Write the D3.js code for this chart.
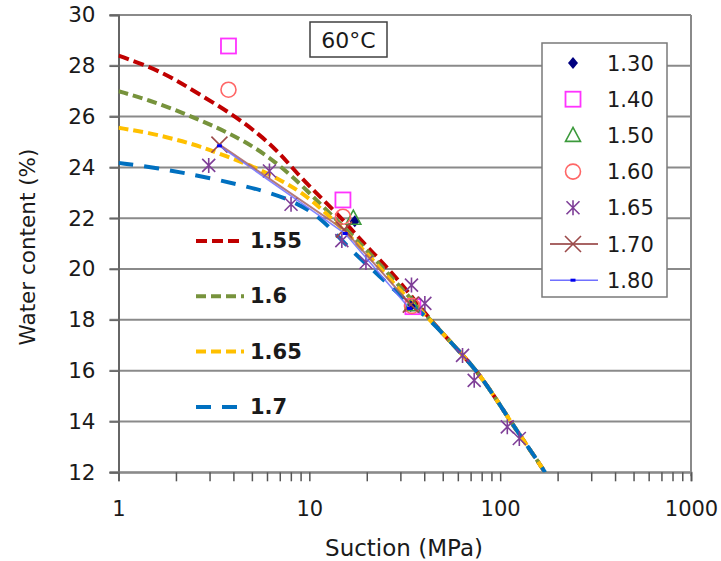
<!DOCTYPE html>
<html>
<head>
<meta charset="utf-8">
<script src="https://cdn.jsdelivr.net/npm/d3@7"></script>
<style>
  body { margin: 0; background: #fff; }
  text { font-family: "DejaVu Sans", Verdana, sans-serif; fill: #1a1a1a; }
</style>
</head>
<body>
<div id="chart"></div>
<script>
// measured points, [suction MPa, water content %]
var d130 = [[17.3, 21.88], [34.0, 18.55]];
var d140 = [[3.77, 28.78], [15.0, 22.72], [34.9, 18.52]];
var d150 = [[17.0, 22.0], [34.5, 18.6]];
var d160 = [[3.77, 27.06], [15.0, 22.06], [34.5, 18.55]];
var d165 = [[2.97, 24.08], [6.18, 23.86], [8.02, 22.55], [14.8, 21.12], [19.8, 20.26],
            [34.3, 19.37], [40.3, 18.65], [63.5, 16.6], [73.1, 15.62], [109, 13.79], [126, 13.33]];
var d170 = [[3.38, 24.9], [15.2, 21.55], [34.0, 18.6]];
var d180 = [[3.38, 24.85], [15.4, 21.4], [33.5, 18.45]];

// fitted curves
var fitTail = [[42.5, 18.05], [57, 17.0], [78, 15.9], [111, 14.1], [140, 13.0], [172, 12]];
var fit155 = [[1, 28.4], [1.45, 27.97], [2, 27.45], [2.76, 26.8], [3.97, 26.08], [5.47, 25.3],
              [6.97, 24.58], [8.87, 23.66], [11.3, 22.87], [14.4, 22.09], [19, 21.06], [25, 20.15], [33, 19.1]].concat(fitTail);
var fit16 = [[1, 27.0], [1.45, 26.65], [2.17, 26.15], [3, 25.7], [4.3, 25.15], [5.93, 24.5],
             [7.86, 23.75], [10, 23.0], [13.2, 22.09], [17.6, 21.18], [24, 20.1], [32, 19.05]].concat(fitTail);
var fit165 = [[1, 25.56], [1.45, 25.36], [2, 25.1], [2.66, 24.84], [3.66, 24.44], [5.05, 24.05],
              [6.97, 23.53], [9.23, 23.0], [12.2, 22.22], [16.2, 21.3], [22, 20.3], [31, 19.0]].concat(fitTail);
var fit17 = [[1, 24.18], [1.57, 23.99], [3, 23.6], [5.93, 23.07], [8.18, 22.68], [11.3, 22.09],
             [15.7, 20.9], [22, 19.9], [31, 18.85]].concat(fitTail);

var xTicks = [1, 10, 100, 1000];
var yTicks = [12, 14, 16, 18, 20, 22, 24, 26, 28, 30];

var width = 721, height = 561;
var pLeft = 118.5, pRight = 691, pTop = 15, pBottom = 472.3;

var x = d3.scaleLog().domain([1, 1000]).range([pLeft, pRight]);
var y = d3.scaleLinear().domain([12, 30]).range([pBottom, pTop]);

var svg = d3.select("#chart").append("svg")
    .attr("width", width)
    .attr("height", height);

svg.append("rect").attr("width", width).attr("height", height).attr("fill", "#fff");

svg.append("clipPath").attr("id", "plot")
  .append("rect")
    .attr("x", pLeft).attr("y", pTop - 2)
    .attr("width", pRight - pLeft).attr("height", pBottom - pTop + 2);

// horizontal gridlines
svg.append("g")
  .selectAll("line")
  .data(yTicks)
  .enter().append("line")
    .attr("x1", pLeft - 9).attr("x2", pRight)
    .attr("y1", function(d) { return y(d); })
    .attr("y2", function(d) { return y(d); })
    .attr("stroke", "#8a8a8a")
    .attr("stroke-width", 2);

// right border
svg.append("line")
    .attr("x1", pRight).attr("x2", pRight)
    .attr("y1", pTop).attr("y2", pBottom + 4)
    .attr("stroke", "#8a8a8a").attr("stroke-width", 2);

// y axis
var yAxis = svg.append("g")
    .attr("transform", "translate(" + pLeft + ",0)")
    .call(d3.axisLeft(y).tickValues(yTicks).tickSize(9).tickPadding(14));
yAxis.select(".domain").attr("stroke", "#666").attr("stroke-width", 2);
yAxis.selectAll(".tick line").attr("stroke", "#666").attr("stroke-width", 1.5);
yAxis.selectAll("text").attr("font-size", 21.5).attr("font-family", "DejaVu Sans").attr("fill", "#1a1a1a");

// x axis with minor ticks
var minor = [];
[1, 10, 100].forEach(function(dec) {
  for (var k = 1; k < 10; k++) minor.push(dec * k);
});
minor.push(1000);
var xAxis = svg.append("g")
    .attr("transform", "translate(0," + pBottom + ")")
    .call(d3.axisBottom(x).tickValues(minor).tickSize(9).tickPadding(20)
      .tickFormat(function(d) { return xTicks.indexOf(d) >= 0 ? d : ""; }));
xAxis.select(".domain").attr("stroke", "#8a8a8a").attr("stroke-width", 2);
xAxis.selectAll(".tick line").attr("stroke", "#555").attr("stroke-width", 1.5);
xAxis.selectAll("text").attr("font-size", 21).attr("font-family", "DejaVu Sans").attr("fill", "#1a1a1a");

// axis titles
svg.append("text")
    .attr("x", 404).attr("y", 556)
    .attr("text-anchor", "middle")
    .attr("font-size", 23)
    .text("Suction (MPa)");
svg.append("text")
    .attr("transform", "translate(35,247) rotate(-90)")
    .attr("text-anchor", "middle")
    .attr("font-size", 21.5)
    .text("Water content (%)");

// fitted curves
var line = d3.line()
    .x(function(d) { return x(d[0]); })
    .y(function(d) { return y(d[1]); })
    .curve(d3.curveBasis);

var fits = [
  {name: "1.55", data: fit155, color: "#c00000", dash: "11,5"},
  {name: "1.6", data: fit16, color: "#77933c", dash: "10,5"},
  {name: "1.65", data: fit165, color: "#ffc000", dash: "10,5"},
  {name: "1.7", data: fit17, color: "#0070c0", dash: "15,11"}
];

var curves = svg.append("g").attr("clip-path", "url(#plot)");
fits.forEach(function(f) {
  curves.append("path")
      .datum(f.data)
      .attr("fill", "none")
      .attr("stroke", f.color)
      .attr("stroke-width", 4)
      .attr("stroke-dasharray", f.dash)
      .attr("d", line);
});

// curve labels
var fitKey = svg.append("g");
fits.forEach(function(f, i) {
  var yy = 241 + i * 55.3;
  fitKey.append("line")
      .attr("x1", 196).attr("x2", 244)
      .attr("y1", yy).attr("y2", yy)
      .attr("stroke", f.color).attr("stroke-width", 4)
      .attr("stroke-dasharray", f.dash);
  fitKey.append("text")
      .attr("x", 250).attr("y", yy + 7)
      .attr("font-family", "Liberation Sans, Arial, sans-serif")
      .attr("font-weight", "bold")
      .attr("font-size", 21)
      .attr("fill", "#000")
      .text(f.name);
});

// marker drawers
function asterisk(g, r, color) {
  g.append("path")
      .attr("d", "M" + (-r) + "," + (-r) + "L" + r + "," + r +
                 "M" + (-r) + "," + r + "L" + r + "," + (-r) +
                 "M0," + (-r * 1.15) + "L0," + (r * 1.15))
      .attr("stroke", color).attr("stroke-width", 1.6).attr("fill", "none");
}
function cross(g, r, color) {
  g.append("path")
      .attr("d", "M" + (-r) + "," + (-r) + "L" + r + "," + r +
                 "M" + (-r) + "," + r + "L" + r + "," + (-r))
      .attr("stroke", color).attr("stroke-width", 1.6).attr("fill", "none");
}

var markers = {
  "1.30": function(g) {
    g.append("path").attr("d", "M0,-6L5,0L0,6L-5,0Z").attr("fill", "#000080");
  },
  "1.40": function(g) {
    g.append("rect").attr("x", -7.5).attr("y", -7.5).attr("width", 15).attr("height", 15)
        .attr("fill", "none").attr("stroke", "#ff33ff").attr("stroke-width", 1.8);
  },
  "1.50": function(g) {
    g.append("path").attr("d", "M0,-8L7.5,6L-7.5,6Z")
        .attr("fill", "none").attr("stroke", "#3c9a3c").attr("stroke-width", 1.6);
  },
  "1.60": function(g) {
    g.append("circle").attr("r", 7.5)
        .attr("fill", "none").attr("stroke", "#ff6666").attr("stroke-width", 1.6);
  },
  "1.65": function(g) { asterisk(g, 6.5, "#7f3f98"); },
  "1.70": function(g) { cross(g, 8, "#9c4a4a"); },
  "1.80": function(g) {
    g.append("rect").attr("x", -2.5).attr("y", -1.5).attr("width", 5).attr("height", 3)
        .attr("fill", "#0000ee");
  }
};

var series = [
  {name: "1.30", data: d130},
  {name: "1.40", data: d140},
  {name: "1.50", data: d150},
  {name: "1.60", data: d160},
  {name: "1.65", data: d165},
  {name: "1.70", data: d170, line: "#a86464", lw: 2},
  {name: "1.80", data: d180, line: "#7070ff", lw: 1.6}
];

var straight = d3.line()
    .x(function(d) { return x(d[0]); })
    .y(function(d) { return y(d[1]); });

var pts = svg.append("g");
series.forEach(function(s) {
  if (s.line) {
    pts.append("path")
        .datum(s.data)
        .attr("fill", "none")
        .attr("stroke", s.line)
        .attr("stroke-opacity", 0.85)
        .attr("stroke-width", s.lw)
        .attr("d", straight);
  }
  s.data.forEach(function(d) {
    var g = pts.append("g")
        .attr("transform", "translate(" + x(d[0]) + "," + y(d[1]) + ")");
    markers[s.name](g);
  });
});

// temperature box
svg.append("rect")
    .attr("x", 310).attr("y", 22).attr("width", 77).attr("height", 35)
    .attr("fill", "#fff").attr("stroke", "#404040").attr("stroke-width", 1.5);
svg.append("text")
    .attr("x", 348.5).attr("y", 48)
    .attr("text-anchor", "middle")
    .attr("font-size", 22)
    .text("60\u00B0C");

// legend
var legend = svg.append("g");
legend.append("rect")
    .attr("x", 542).attr("y", 43).attr("width", 125).attr("height", 254)
    .attr("fill", "#fff").attr("stroke", "#7a7a7a").attr("stroke-width", 1.5);
series.forEach(function(s, i) {
  var yy = 63 + i * 36.2;
  var g = legend.append("g").attr("transform", "translate(573," + yy + ")");
  if (s.line) {
    g.append("line").attr("x1", -23).attr("x2", 25).attr("y1", 0).attr("y2", 0)
        .attr("stroke", s.line).attr("stroke-width", s.lw);
  }
  markers[s.name](g);
  legend.append("text")
      .attr("x", 607).attr("y", yy + 7.5)
      .attr("font-size", 21)
      .text(s.name);
});
</script>
</body>
</html>
